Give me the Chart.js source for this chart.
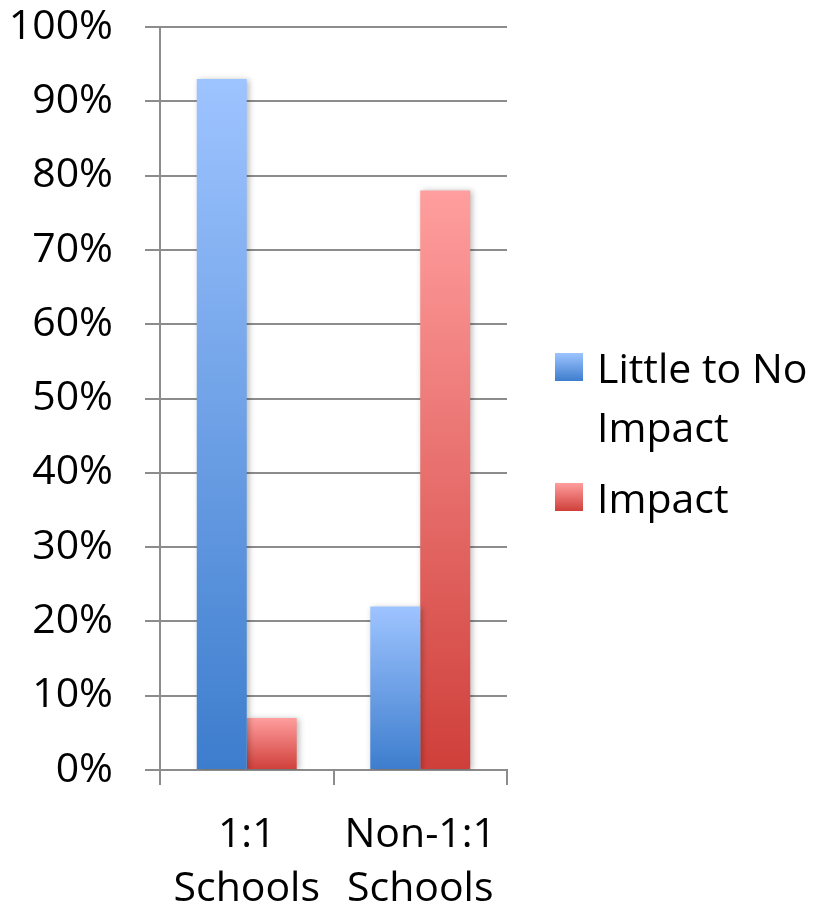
<!DOCTYPE html>
<html>
<head>
<meta charset="utf-8">
<script src="https://cdn.jsdelivr.net/npm/chart.js@4/dist/chart.umd.min.js"></script>
<style>
  html, body { margin: 0; padding: 0; background: #fff; }
  #wrap { position: relative; width: 815px; height: 909px; }
  #legend { position: absolute; left: 555px; top: 338px; font-family: "Open Sans", sans-serif; font-size: 41px; color: #000; }
  .item { display: flex; align-items: flex-start; margin-bottom: 12px; }
  .box { width: 28px; height: 28px; margin-top: 15px; margin-right: 14px; flex: none; }
  .txt { line-height: 59px; }
</style>
</head>
<body>
<div id="wrap">
  <canvas id="c"></canvas>
  <div id="legend"></div>
</div>
<script>
const categories = [["1:1", "Schools"], ["Non-1:1", "Schools"]];
const seriesNames = ["Little to No Impact", "Impact"];
const littleToNoImpact = [93, 22];
const impact = [7, 78];
const yTicks = [0, 10, 20, 30, 40, 50, 60, 70, 80, 90, 100];

const palettes = [
  { top: "#9ec4ff", bottom: "#3d7dcd" },
  { top: "#ff9e9e", bottom: "#cf3f3a" }
];

function gradientFill(ctx, pal) {
  const chart = ctx.chart;
  const y = chart.scales && chart.scales.y;
  if (!y || ctx.raw === undefined || !isFinite(y.getPixelForValue(0))) return pal.bottom;
  const top = y.getPixelForValue(ctx.raw);
  const base = y.getPixelForValue(0);
  if (!isFinite(top) || top === base) return pal.bottom;
  const g = chart.ctx.createLinearGradient(0, top, 0, base);
  g.addColorStop(0, pal.top);
  g.addColorStop(1, pal.bottom);
  return g;
}

const shadowPlugin = {
  id: 'barShadow',
  beforeDatasetDraw(chart) {
    const c = chart.ctx;
    c.save();
    c.shadowColor = 'rgba(0,0,0,0.28)';
    c.shadowBlur = 6;
    c.shadowOffsetX = 2;
    c.shadowOffsetY = 1;
  },
  afterDatasetDraw(chart) { chart.ctx.restore(); }
};

const YFONT = { family: '"Open Sans", sans-serif', size: 41, lineHeight: 1.3 };
const XFONT = { family: '"Open Sans", sans-serif', size: 41, lineHeight: 1.3 };
const GRID = '#8c8c8c';

new Chart(document.getElementById('c'), {
  type: 'bar',
  data: {
    labels: categories,
    datasets: [
      { label: seriesNames[0], data: littleToNoImpact, backgroundColor: (ctx) => gradientFill(ctx, palettes[0]), borderWidth: 0 },
      { label: seriesNames[1], data: impact, backgroundColor: (ctx) => gradientFill(ctx, palettes[1]), borderWidth: 0 }
    ]
  },
  options: {
    responsive: true,
    maintainAspectRatio: false,
    animation: false,
    layout: { padding: { top: 0, right: 308, left: 0, bottom: 0 } },
    datasets: { bar: { categoryPercentage: 0.576, barPercentage: 1.0 } },
    plugins: { legend: { display: false }, tooltip: { enabled: false } },
    scales: {
      x: {
        offset: true,
        grid: { display: true, drawOnChartArea: false, drawTicks: true, tickLength: 15, color: GRID, lineWidth: 2, offset: true },
        border: { display: true, color: GRID, width: 2 },
        ticks: { color: '#000', font: XFONT, padding: 24, maxRotation: 0, autoSkip: false },
        afterFit(scale) { scale.height = 139; }
      },
      y: {
        min: 0, max: 100,
        afterBuildTicks(scale) { scale.ticks = yTicks.map(v => ({ value: v })); },
        grid: { color: GRID, lineWidth: 2, drawTicks: true, tickLength: 15 },
        border: { display: true, color: GRID, width: 2 },
        ticks: { color: '#000', font: YFONT, padding: 32, callback: (v) => v + '%' },
        afterFit(scale) { scale.width = 160; scale.paddingTop = 27; scale.paddingBottom = 0; }
      }
    }
  },
  plugins: [shadowPlugin]
});

const legend = document.getElementById('legend');
seriesNames.forEach((name, i) => {
  const item = document.createElement('div');
  item.className = 'item';
  const box = document.createElement('div');
  box.className = 'box';
  box.style.background = `linear-gradient(to bottom, ${palettes[i].top}, ${palettes[i].bottom})`;
  const txt = document.createElement('div');
  txt.className = 'txt';
  txt.innerHTML = i === 0 ? 'Little to No<br>Impact' : name;
  item.appendChild(box);
  item.appendChild(txt);
  legend.appendChild(item);
});
</script>
</body>
</html>
